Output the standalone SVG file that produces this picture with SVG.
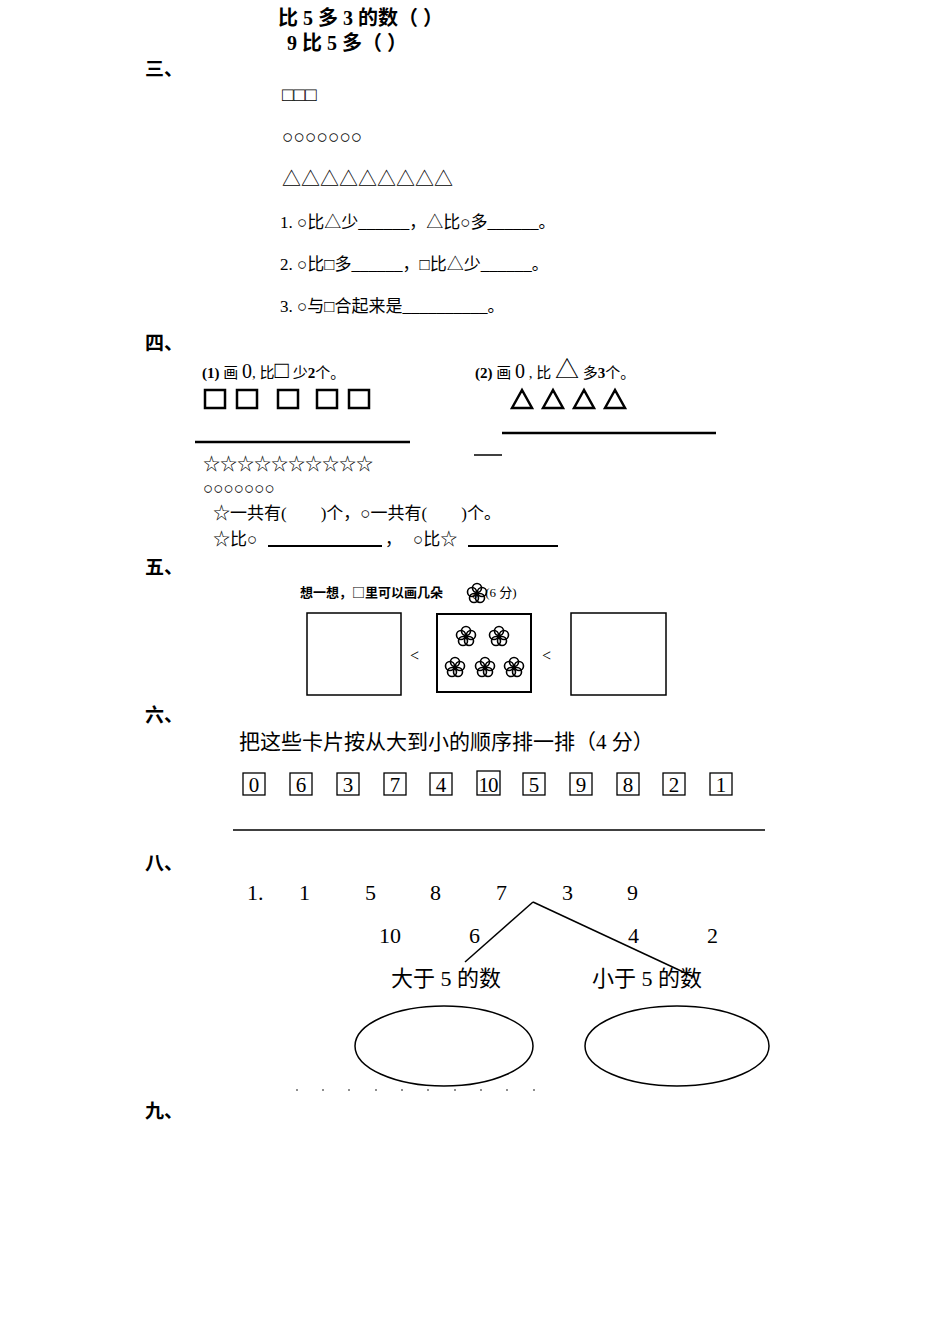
<svg xmlns="http://www.w3.org/2000/svg" width="950" height="1344" viewBox="0 0 950 1344">
<style>
text{font-family:"Liberation Serif","Noto Sans CJK SC",serif;fill:#000}
.b{font-weight:bold}
.h{font-size:19px;font-weight:bold;font-family:"Noto Sans CJK SC",sans-serif}
.s{fill:none;stroke:#000}
.fl{fill:none;stroke:#000;stroke-width:1.6}
</style>
<defs>
<g id="flower"><circle cx="0" cy="-5" r="4.5" class="fl"/><circle cx="5" cy="-1" r="4.5" class="fl"/><circle cx="3" cy="5" r="4.5" class="fl"/><circle cx="-3" cy="5" r="4.5" class="fl"/><circle cx="-5" cy="-1" r="4.5" class="fl"/><circle cx="0" cy="1" r="2" fill="#000"/></g>
</defs>
<rect width="950" height="1344" fill="#fff"/>
<g id="top">
<text x="278" y="25" class="b" font-size="20">比 5 多 3 的数（ ）</text>
<text x="287" y="50" class="b" font-size="20">9 比 5 多（ ）</text>
</g>
<g id="s3">
<text x="145" y="76" class="h">三、</text>
<text x="282" y="101" font-size="19">□□□</text>
<text x="282" y="143" font-size="19">○○○○○○○</text>
<text x="282" y="186" font-size="19">△△△△△△△△△</text>
<text x="280" y="228" font-size="17">1.  ○比△少______，△比○多______。</text>
<text x="280" y="270" font-size="17">2.  ○比□多______，□比△少______。</text>
<text x="280" y="312" font-size="17">3.  ○与□合起来是__________。</text>
</g>
<g id="s4">
<text x="145" y="350" class="h">四、</text>
<text x="202" y="378" font-size="15"><tspan font-weight="bold">(1)</tspan> 画 <tspan font-size="20">0</tspan>, 比<tspan font-size="24">□</tspan> 少<tspan font-weight="bold">2</tspan>个。</text>
<text x="475" y="378" font-size="15"><tspan font-weight="bold">(2)</tspan> 画 <tspan font-size="20">0</tspan> , 比 <tspan font-size="24">△</tspan> 多<tspan font-weight="bold">3</tspan>个。</text>
<g stroke="#000" stroke-width="2.5" fill="none">
<rect x="205" y="390" width="20" height="18"/><rect x="237" y="390" width="20" height="18"/><rect x="278" y="390" width="20" height="18"/><rect x="317" y="390" width="20" height="18"/><rect x="349" y="390" width="20" height="18"/>
<path d="M512 408 L522 390 L532 408 Z M543 408 L553 390 L563 408 Z M574 408 L584 390 L594 408 Z M605 408 L615 390 L625 408 Z"/>
</g>
<line x1="195" y1="442" x2="410" y2="442" stroke="#000" stroke-width="2.5"/>
<line x1="502" y1="433" x2="716" y2="433" stroke="#000" stroke-width="2.5"/>
<line x1="474" y1="455" x2="502" y2="455" stroke="#000" stroke-width="1.5"/>
<text x="203" y="470" font-size="17">☆☆☆☆☆☆☆☆☆☆</text>
<text x="203" y="494" font-size="17">○○○○○○○</text>
<text x="213" y="519" font-size="17">☆一共有(　　)个，○一共有(　　)个。</text>
<text x="213" y="545" font-size="17">☆比○</text>
<line x1="268" y1="546" x2="382" y2="546" stroke="#000" stroke-width="2"/>
<text x="385" y="545" font-size="17">，</text>
<text x="413" y="545" font-size="17">○比☆</text>
<line x1="468" y1="546" x2="558" y2="546" stroke="#000" stroke-width="2"/>
</g>
<g id="s5">
<text x="145" y="574" class="h">五、</text>
<text x="300" y="597" font-size="13"><tspan font-family="Noto Sans CJK SC,sans-serif" font-weight="bold">想一想，□里可以画几朵</tspan>　　 。(6 分)</text>
<use href="#flower" x="477" y="593"/>
<rect x="307" y="613" width="94" height="82" class="s" stroke-width="1.5"/>
<rect x="437" y="614" width="94" height="78" class="s" stroke-width="2"/>
<rect x="571" y="613" width="95" height="82" class="s" stroke-width="1.5"/>
<text x="410" y="661" font-size="16" fill="#666">&lt;</text>
<text x="542" y="661" font-size="16" fill="#666">&lt;</text>
<use href="#flower" x="466" y="636"/><use href="#flower" x="499" y="636"/>
<use href="#flower" x="455" y="667"/><use href="#flower" x="485" y="667"/><use href="#flower" x="514" y="667"/>
</g>
<g id="s6">
<text x="145" y="722" class="h">六、</text>
<text x="239" y="749" font-size="21">把这些卡片按从大到小的顺序排一排（4 分）</text>
<g stroke="#000" stroke-width="1.3" fill="none">
<rect x="243" y="773" width="22" height="22"/><rect x="290" y="773" width="22" height="22"/><rect x="337" y="773" width="22" height="22"/><rect x="384" y="773" width="22" height="22"/><rect x="430" y="773" width="22" height="22"/><rect x="477" y="771" width="23" height="24"/><rect x="523" y="773" width="22" height="22"/><rect x="570" y="773" width="22" height="22"/><rect x="617" y="773" width="22" height="22"/><rect x="663" y="773" width="22" height="22"/><rect x="710" y="773" width="22" height="22"/>
</g>
<g font-size="21" text-anchor="middle">
<text x="254" y="792">0</text><text x="301" y="792">6</text><text x="348" y="792">3</text><text x="395" y="792">7</text><text x="441" y="792">4</text><text x="488" y="792" letter-spacing="-1">10</text><text x="534" y="792">5</text><text x="581" y="792">9</text><text x="628" y="792">8</text><text x="674" y="792">2</text><text x="721" y="792">1</text>
</g>
<line x1="233" y1="830" x2="765" y2="830" stroke="#000" stroke-width="1.5"/>
</g>
<g id="s8">
<text x="145" y="870" class="h">八、</text>
<g font-size="22">
<text x="247" y="900">1.</text><text x="299" y="900">1</text><text x="365" y="900">5</text><text x="430" y="900">8</text><text x="496" y="900">7</text><text x="562" y="900">3</text><text x="627" y="900">9</text>
<text x="379" y="943">10</text><text x="469" y="943">6</text><text x="628" y="943">4</text><text x="707" y="943">2</text>
<text x="391" y="986">大于 5 的数</text><text x="592" y="986">小于 5 的数</text>
</g>
<g id="connectors" stroke="#000" stroke-width="1.5" fill="none">
<line x1="533" y1="902" x2="465" y2="962"/>
<line x1="533" y1="902" x2="694" y2="977"/>
</g>
<ellipse cx="444" cy="1046" rx="89" ry="40" class="s" stroke-width="1.5"/>
<ellipse cx="677" cy="1046" rx="92" ry="40" class="s" stroke-width="1.5"/>
<g fill="#000"><circle cx="297" cy="1090" r="0.8"/><circle cx="323" cy="1090" r="0.8"/><circle cx="349" cy="1090" r="0.8"/><circle cx="376" cy="1090" r="0.8"/><circle cx="402" cy="1090" r="0.8"/><circle cx="428" cy="1090" r="0.8"/><circle cx="455" cy="1090" r="0.8"/><circle cx="481" cy="1090" r="0.8"/><circle cx="507" cy="1090" r="0.8"/><circle cx="534" cy="1090" r="0.8"/></g>
</g>
<text x="145" y="1118" class="h">九、</text>
</svg>
